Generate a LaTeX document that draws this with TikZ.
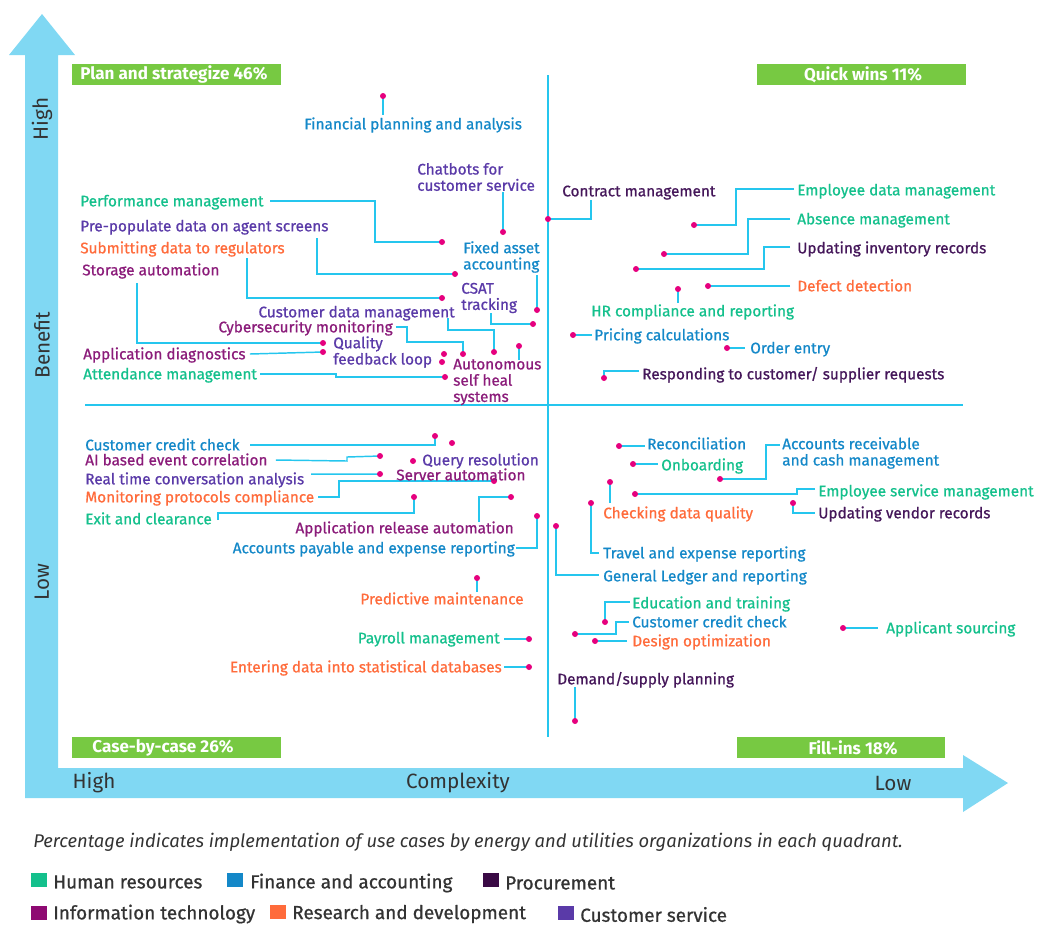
\documentclass[tikz,border=0pt]{standalone}
\usepackage{fontspec}
\setmainfont{Fira Sans}
\newfontfamily\lblf{Fira Sans}[FakeBold=0.8]
\usetikzlibrary{backgrounds}
\definecolor{hrc}{HTML}{14C08C}
\definecolor{finc}{HTML}{1488C8}
\definecolor{procc}{HTML}{45175A}
\definecolor{itc}{HTML}{8B1C7A}
\definecolor{rdc}{HTML}{FF6B3B}
\definecolor{csc}{HTML}{5A3AA8}
\definecolor{connc}{HTML}{25C6EE}
\definecolor{dotc}{HTML}{E6007E}
\definecolor{arrowc}{HTML}{80D8F3}
\definecolor{boxc}{HTML}{77C942}
\definecolor{txtc}{HTML}{333333}
\definecolor{procsq}{HTML}{3A0A45}
\definecolor{itsq}{HTML}{8E0A72}
\begin{document}
\begin{tikzpicture}[x=0.75pt,y=-0.75pt,
  lbl/.style={inner sep=0pt, font=\lblf\fontsize{11.5}{12.2}\selectfont, align=left},
  l/.style={lbl, anchor=west, text height=8pt, text depth=0pt},
  r/.style={lbl, anchor=east, text height=8pt, text depth=0pt},
  ml/.style={lbl, anchor=west},
  dot/.style={circle, fill=dotc, inner sep=0pt, minimum size=4.5pt},
  conn/.style={draw=connc, line width=1.1pt},
  axisline/.style={draw=connc, line width=1.6pt},
  boxtxt/.style={inner sep=0pt, text=white, font=\bfseries\fontsize{12.8}{14}\selectfont},
  axtxt/.style={inner sep=0pt, text=txtc, font=\fontsize{15.5}{17}\selectfont},
  sq/.style={inner sep=0pt, minimum width=12pt, minimum height=10.5pt},
  legt/.style={inner sep=0pt, anchor=west, text=txtc, font=\lblf\fontsize{14.2}{16}\selectfont}
]
\useasboundingbox (0,0) rectangle (1041,926);

% ---------- dots ----------
\node[dot] (dfpa) at (383,96) {};
\node[dot] (dchat) at (503,232) {};
\node[dot] (dcon) at (548,219) {};
\node[dot] (dperf) at (442,242) {};
\node[dot] (dpre) at (455,274) {};
\node[dot] (dsub) at (442,298) {};
\node[dot] (dsto) at (323,343) {};
\node[dot] (dapd) at (323,352) {};
\node[dot] (datt) at (445,377) {};
\node[dot] (dq1) at (444,354) {};
\node[dot] (dq2) at (442,362) {};
\node[dot] (dcdm) at (494,352) {};
\node[dot] (dcyb) at (463,354) {};
\node[dot] (daut) at (519,346) {};
\node[dot] (dfix) at (537,310) {};
\node[dot] (dcsat) at (533,324) {};
\node[dot] (dedm) at (694,225) {};
\node[dot] (dabs) at (664,254) {};
\node[dot] (duir) at (636,269) {};
\node[dot] (ddef) at (708,286) {};
\node[dot] (dhrc) at (678,289) {};
\node[dot] (dpri) at (573,335) {};
\node[dot] (dord) at (727,348) {};
\node[dot] (dres) at (604,378) {};
\node[dot] (dccc) at (435,436) {};
\node[dot] (dx1) at (452,443) {};
\node[dot] (dai) at (380,456) {};
\node[dot] (dqr) at (413,461) {};
\node[dot] (drt) at (380,474) {};
\node[dot] (dsrv) at (494,481) {};
\node[dot] (dexit) at (414,497) {};
\node[dot] (dara) at (511,497) {};
\node[dot] (dap) at (537,516) {};
\node[dot] (dpm) at (477,578) {};
\node[dot] (dpay) at (529,639) {};
\node[dot] (dent) at (529,667) {};
\node[dot] (dgl) at (556,526) {};
\node[dot] (drec) at (619,446) {};
\node[dot] (donb) at (633,464) {};
\node[dot] (dar) at (720,479) {};
\node[dot] (desm) at (635,494) {};
\node[dot] (duvr) at (793,503) {};
\node[dot] (dcdq) at (610,482) {};
\node[dot] (dtrv) at (591,503) {};
\node[dot] (dedu) at (605,622) {};
\node[dot] (dccc2) at (575,634) {};
\node[dot] (ddes) at (595,641) {};
\node[dot] (dapp) at (843,628) {};
\node[dot] (ddsp) at (575,721) {};

% ---------- labels ----------
\node[l, text=finc] (fpa) at (304,124) {Financial planning and analysis};
\node[ml, text=csc] (chat) at (417,177) {Chatbots for\\customer service};
\node[l, text=procc] (con) at (562,191) {Contract management};
\node[l, text=hrc] (perf) at (80,201) {Performance management};
\node[l, text=csc] (pre) at (80,226) {Pre-populate data on agent screens};
\node[l, text=rdc] (sub) at (80,248) {Submitting data to regulators};
\node[l, text=itc] (sto) at (82,270) {Storage automation};
\node[l, text=itc] (apd) at (83,354) {Application diagnostics};
\node[l, text=hrc] (att) at (83,374) {Attendance management};
\node[ml, text=csc] (qfl) at (333,352) {Quality\\feedback loop};
\node[r, text=csc] (cdm) at (455,312) {Customer data management};
\node[r, text=itc] (cyb) at (393,327) {Cybersecurity monitoring};
\node[ml, text=itc] (aut) at (453,382) {Autonomous\\self heal\\systems};
\node[ml, text=finc] (fix) at (463,257) {Fixed asset\\accounting};
\node[ml, text=csc] (csat) at (461,298) {CSAT\\tracking};
\node[l, text=hrc] (edm) at (797,190) {Employee data management};
\node[l, text=hrc] (abs) at (797,219) {Absence management};
\node[l, text=procc] (uir) at (797,248) {Updating inventory records};
\node[l, text=rdc] (def) at (797,286) {Defect detection};
\node[l, text=hrc] (hrc) at (591,311) {HR compliance and reporting};
\node[l, text=finc] (pri) at (594,335) {Pricing calculations};
\node[l, text=finc] (ord) at (750,348) {Order entry};
\node[l, text=procc] (res) at (642,374) {Responding to customer/ supplier requests};
\node[l, text=finc] (ccc) at (85,445) {Customer credit check};
\node[l, text=itc] (ai) at (85,460) {AI based event correlation};
\node[l, text=csc] (qr) at (422,460) {Query resolution};
\node[l, text=csc] (rt) at (85,479) {Real time conversation analysis};
\node[l, text=itc] (srv) at (396,475) {Server automation};
\node[l, text=rdc] (mpc) at (85,497) {Monitoring protocols compliance};
\node[l, text=hrc] (exit) at (85,519) {Exit and clearance};
\node[r, text=itc] (ara) at (514,528) {Application release automation};
\node[r, text=finc] (ap) at (515,548) {Accounts payable and expense reporting};
\node[lbl, anchor=center, text height=8pt, text depth=0pt, text=rdc] (pm) at (442,599) {Predictive maintenance};
\node[r, text=hrc] (pay) at (500,638) {Payroll management};
\node[r, text=rdc] (ent) at (502,667) {Entering data into statistical databases};
\node[l, text=finc] (gl) at (603,576) {General Ledger and reporting};
\node[l, text=finc] (rec) at (647,444) {Reconciliation};
\node[l, text=hrc] (onb) at (661,465) {Onboarding};
\node[ml, text=finc] (ar) at (782,453) {Accounts receivable\\and cash management};
\node[l, text=hrc] (esm) at (818,491) {Employee service management};
\node[l, text=procc] (uvr) at (818,513) {Updating vendor records};
\node[l, text=rdc] (cdq) at (603,513) {Checking data quality};
\node[l, text=finc] (trv) at (603,553) {Travel and expense reporting};
\node[l, text=hrc] (edu) at (632,603) {Education and training};
\node[l, text=finc] (ccc2) at (632,622) {Customer credit check};
\node[l, text=rdc] (des) at (632,641) {Design optimization};
\node[l, text=hrc] (app) at (886,628) {Applicant sourcing};
\node[l, text=procc] (dsp) at (557,679) {Demand/supply planning};

% ---------- quadrant titles ----------
\node[boxtxt, anchor=west] (q1) at (80,74.5) {Plan and strategize 46\%};
\node[boxtxt] (q2) at (863,74.5) {Quick wins 11\%};
\node[boxtxt] (q3) at (163,747.5) {Case-by-case 26\%};
\node[boxtxt] (q4) at (853,747.5) {Fill-ins 18\%};

% ---------- axis texts ----------
\node[axtxt, rotate=90] (yhigh) at (42,119) {High};
\node[axtxt, rotate=90] (ybenefit) at (42,345) {Benefit};
\node[axtxt, rotate=90] (ylow) at (42,582) {Low};
\node[axtxt] (xhigh) at (94,783) {High};
\node[axtxt] (xcomp) at (458,783) {Complexity};
\node[axtxt] (xlow) at (893,783) {Low};

% ---------- caption and legend ----------
\node[inner sep=0pt, anchor=west, text=txtc, font=\itshape\fontsize{13.8}{15}\selectfont] (cap) at (33,842)
  {Percentage indicates implementation of use cases by energy and utilities organizations in each quadrant.};
\node[sq, fill=hrc] (s1) at (38.5,880) {};
\node[legt] (t1) at (53,882) {Human resources};
\node[sq, fill=finc] (s2) at (235,880) {};
\node[legt] (t2) at (250,883) {Finance and accounting};
\node[sq, fill=procsq] (s3) at (491,880) {};
\node[legt] (t3) at (505,883) {Procurement};
\node[sq, fill=itsq] (s4) at (38.5,913) {};
\node[legt] (t4) at (53,914) {Information technology};
\node[sq, fill=rdc] (s5) at (278,912) {};
\node[legt] (t5) at (292,914) {Research and development};
\node[sq, fill=csc] (s6) at (566,913) {};
\node[legt] (t6) at (580,914.5) {Customer service};

\begin{pgfonlayer}{background}
\fill[arrowc] (9,55) -- (42,14) -- (75,55) -- (58,55) -- (58,768) -- (963,768) -- (963,755)
  -- (1008,783) -- (963,812) -- (963,798) -- (25,798) -- (25,55) -- cycle;
\fill[boxc] (72,64) rectangle (281,85);
\fill[boxc] (757,64) rectangle (966,85);
\fill[boxc] (72,737) rectangle (281,758);
\fill[boxc] (737,737) rectangle (945,758);
\draw[axisline] (548,75) -- (548,737);
\draw[axisline] (85,405) -- (963,405);
% connectors
\draw[conn] (dfpa.center) -- (383,115);
\draw[conn] (503,192) -- (dchat.center);
\draw[conn] (dcon.center) -- (591,219) -- (591,200);
\draw[conn] ([xshift=5pt]perf.east) -- (375,201) |- (dperf.center);
\draw[conn] (317,238) |- (dpre.center);
\draw[conn] (247,258) |- (dsub.center);
\draw[conn] (137,283) |- (dsto.center);
\draw[conn] ([xshift=3pt]apd.east) -- (dapd.center);
\draw[conn] ([xshift=2pt]att.east) -- (336,374) -- (336,377) -- (datt.center);
\draw[conn] (448,318) |- (494,330) -- (dcdm.center);
\draw[conn] ([xshift=2pt]cyb.east) -- (407,327) -- (407,342) -- (463,342) -- (dcyb.center);
\draw[conn] (daut.center) -- (519,360);
\draw[conn] (537,275) -- (dfix.center);
\draw[conn] (491,313) |- (dcsat.center);
\draw[conn] (794,189) -- (736,189) |- (dedm.center);
\draw[conn] (790,219) -- (748,219) |- (dabs.center);
\draw[conn] (790,247) -- (764,247) |- (duir.center);
\draw[conn] (790,286) -- (ddef.center);
\draw[conn] (dhrc.center) -- (678,303);
\draw[conn] (dpri.center) -- (592,335);
\draw[conn] (dord.center) -- (745,348);
\draw[conn] (639,371) -- (604,371) -- (dres.center);
\draw[conn] ([xshift=8pt]ccc.east) -- (435,445) -- (dccc.center);
\draw[conn] ([xshift=6pt]ai.east) -- (347,461) -- (347,457) -- (dai.center);
\draw[conn] ([xshift=5pt,yshift=3.7pt]rt.east) -- (drt.center);
\draw[conn] ([xshift=3pt]mpc.east) -- (339,497) -- (339,481) -- (dsrv.center);
\draw[conn] (218,520) -- (218,513) -- (414,513) -- (dexit.center);
\draw[conn] (479,522) |- (dara.center);
\draw[conn] ([xshift=1pt]ap.east) -| (dap.center);
\draw[conn] (dpm.center) -- (477,592);
\draw[conn] (504,639) -- (dpay.center);
\draw[conn] (504,667) -- (dent.center);
\draw[conn] (dgl.center) |- (599,575);
\draw[conn] (drec.center) -- (645,446);
\draw[conn] (donb.center) -- (658,464);
\draw[conn] (780,445) -- (766,445) |- (dar.center);
\draw[conn] (815,489) -- (797,489) |- (desm.center);
\draw[conn] (duvr.center) |- (815,513);
\draw[conn] (dcdq.center) -- (610,503);
\draw[conn] (dtrv.center) |- (599,553);
\draw[conn] (630,602) -- (605,602) -- (dedu.center);
\draw[conn] (629,622) -- (616,622) |- (dccc2.center);
\draw[conn] (627,641) -- (ddes.center);
\draw[conn] (dapp.center) -- (878,628);
\draw[conn] (575,687) -- (ddsp.center);
\end{pgfonlayer}
\end{tikzpicture}
\end{document}
